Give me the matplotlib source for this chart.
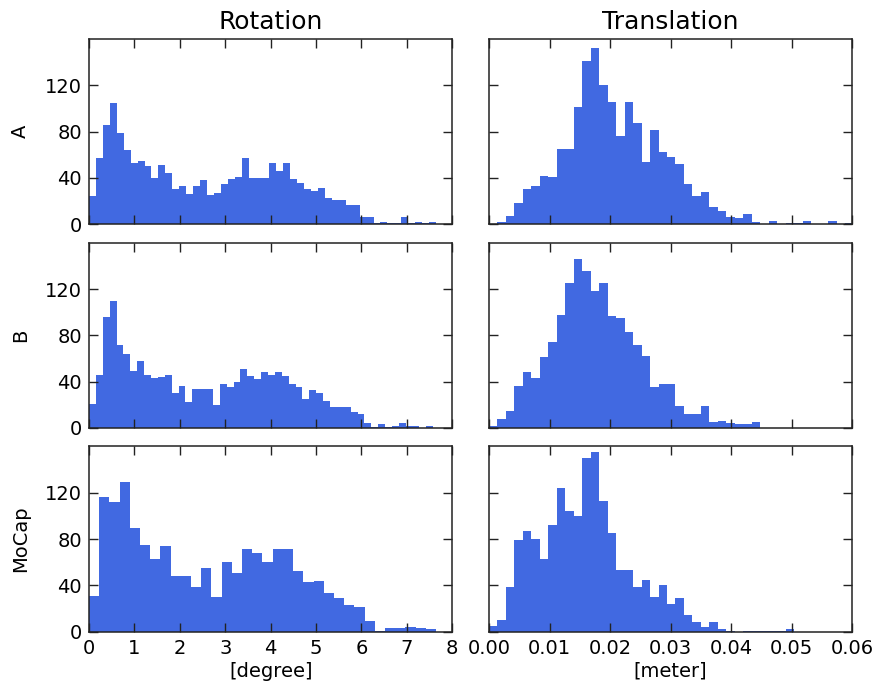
import numpy as np
import matplotlib
matplotlib.use("Agg")
import matplotlib.pyplot as plt
from matplotlib.ticker import FormatStrFormatter

row_labels = ["A", "B", "MoCap"]
col_titles = ["Rotation", "Translation"]
x_labels = ["[degree]", "[meter]"]
y_ticks = [0, 40, 80, 120]

# Rotation histograms (counts per bin), bins start at 0 deg
rot_A = [24, 57, 86, 105, 79, 64, 53, 55, 50, 40, 51, 44, 30, 33, 26, 33, 38, 25, 27, 35,
         39, 41, 57, 40, 40, 40, 53, 46, 53, 39, 36, 30, 29, 31, 23, 21, 21, 17, 17, 6,
         6, 1, 2, 1, 1, 6, 1, 2, 1, 2]
rot_B = [21, 46, 96, 110, 72, 64, 49, 58, 46, 43, 44, 46, 30, 36, 22, 34, 34, 34, 20, 38,
         35, 40, 51, 45, 42, 48, 46, 48, 45, 38, 35, 25, 33, 30, 23, 18, 18, 18, 14, 12,
         4, 1, 3, 1, 2, 4, 2, 2, 0, 2]
rot_C = [31, 116, 112, 129, 90, 75, 63, 74, 48, 48, 39, 55, 30, 60, 51, 71, 68, 60, 71, 71,
         52, 43, 44, 33, 29, 23, 21, 9, 1, 3, 3, 4, 3, 2]
rot_bin_width = [0.1528, 0.1516, 0.2247]

# Translation histograms (counts per bin), bins start at 0 m
tra_A = [0, 2, 7, 18, 30, 33, 42, 41, 65, 65, 101, 141, 152, 120, 106, 76, 106, 87, 54, 81,
         62, 58, 52, 35, 24, 28, 15, 11, 6, 5, 9, 2, 0, 3, 0, 1, 1, 3, 0, 0, 3, 0, 1]
tra_B = [2, 8, 15, 36, 48, 43, 61, 74, 98, 125, 146, 136, 118, 125, 97, 95, 83, 72, 62, 35,
         38, 38, 19, 12, 12, 19, 5, 6, 4, 3, 3, 5]
tra_C = [5, 10, 39, 79, 87, 80, 63, 92, 124, 104, 100, 150, 155, 113, 85, 53, 53, 39, 45, 30,
         40, 24, 29, 14, 8, 4, 8, 2, 1, 0, 1, 1, 1, 1, 1, 2]
tra_bin_width = [0.0014, 0.0014, 0.0014]

rot_data = [rot_A, rot_B, rot_C]
tra_data = [tra_A, tra_B, tra_C]

plt.rcParams['font.family'] = ['DejaVu Sans']
plt.rcParams['font.size'] = 14
plt.rcParams['xtick.direction'] = 'in'
plt.rcParams['ytick.direction'] = 'in'

fig, axes = plt.subplots(3, 2, figsize=(8.78, 6.95), dpi=100, sharey=True)
fig.patch.set_facecolor('white')
fig.subplots_adjust(left=0.1014, right=0.9707, bottom=0.0911, top=0.9439,
                    wspace=0.101, hspace=0.1)

color = '#4169E1'
for r in range(3):
    for c, (data, widths) in enumerate([(rot_data, rot_bin_width), (tra_data, tra_bin_width)]):
        ax = axes[r, c]
        counts = np.array(data[r], dtype=float)
        w = widths[r]
        edges = np.arange(len(counts) + 1) * w
        centers = (edges[:-1] + edges[1:]) / 2
        ax.hist(centers, bins=edges, weights=counts, histtype='stepfilled',
                color=color, linewidth=0)
        ax.set_ylim(0, 160)
        ax.set_yticks(y_ticks)
        ax.tick_params(direction='in', length=6.5, width=1, top=True, right=True,
                       labelsize=14, pad=5, color='#222222')
        for s in ax.spines.values():
            s.set_linewidth(1.1)
            s.set_color('#222222')
        if c == 0:
            ax.set_xlim(0, 8)
            ax.set_xticks(range(0, 9))
            ax.set_ylabel(row_labels[r], fontsize=14, labelpad=11)
        else:
            ax.set_xlim(0, 0.06)
            ax.set_xticks([0, 0.01, 0.02, 0.03, 0.04, 0.05, 0.06])
            ax.xaxis.set_major_formatter(FormatStrFormatter('%.2f'))
            ax.tick_params(labelleft=False)
        if r < 2:
            ax.tick_params(labelbottom=False)
        else:
            ax.set_xlabel(x_labels[c], fontsize=14, labelpad=3)
        if r == 0:
            ax.set_title(col_titles[c], fontsize=18, pad=7)

fig.savefig('out.png', dpi=100, facecolor='white')
